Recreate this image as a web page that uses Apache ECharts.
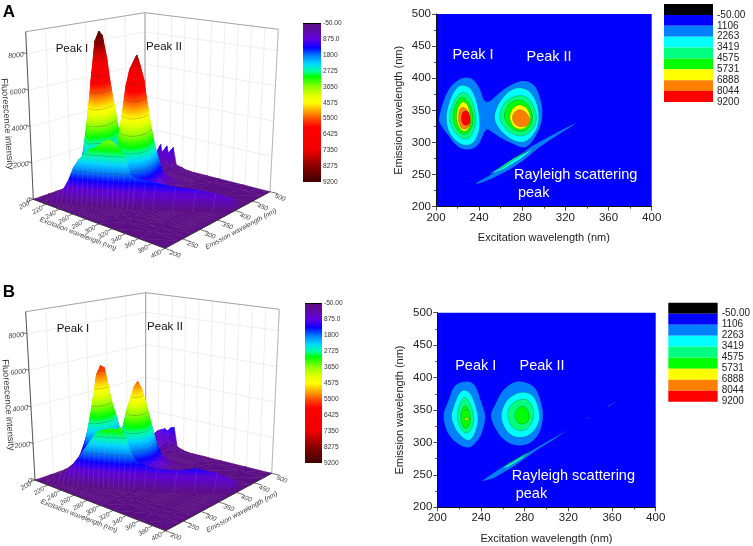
<!DOCTYPE html>
<html><head><meta charset="utf-8">
<style>html,body{margin:0;padding:0;background:#fff}#c{width:753px;height:546px}</style>
<script src="https://cdn.jsdelivr.net/npm/echarts@6/dist/echarts.min.js"></script>
</head><body><div id="c"></div>
<script>
// ---------- DATA ----------
const excitationGrid=[200,210,215,220,225,230,235,240,245,250,260,265,270,275,280,285,290,295,300,320,360,400];
const emissionGrid=[200,240,260,280,290,300,310,320,330,340,350,360,370,380,400,440,480,500];
// rows follow excitationGrid, columns follow emissionGrid
const surfaceA=[
[0,0,0,0,0,50,100,150,250,300,250,200,150,100,50,0,0,0],
[0,0,0,100,250,650,950,1650,2150,2350,1950,1450,1100,750,250,20,0,0],
[0,0,0,200,500,1150,1900,3200,4100,4300,3600,2800,2100,1400,480,40,0,0],
[0,0,0,320,770,1850,2800,4800,6100,6400,5500,4200,3200,2100,780,100,60,100],
[0,0,0,440,1060,2600,3800,6600,8400,8900,7600,5800,4450,2950,1080,150,500,1200],
[0,0,0,430,1040,2500,3700,6400,8250,8700,7400,5650,4350,2870,1050,150,500,250],
[0,0,0,230,550,1330,2000,3500,4400,4600,3900,3000,2300,1520,530,150,600,1200],
[0,0,0,130,300,750,1100,1900,2400,2500,2150,1650,1250,830,300,130,600,250],
[0,0,0,80,180,430,620,1050,1320,1350,1250,1180,1000,650,180,100,500,1200],
[0,0,0,80,190,450,600,850,1150,1300,1300,1180,1050,800,200,80,350,200],
[0,0,0,150,380,800,1300,2200,3000,3800,3300,2500,1800,1300,500,60,150,100],
[0,0,0,300,650,1350,2150,3600,4750,5000,4400,3400,2500,1750,650,60,100,40],
[0,0,0,400,860,1780,2840,4750,6270,6600,5800,4500,3300,2310,860,80,50,20],
[0,0,0,450,975,2030,3230,5400,7130,7500,6600,5100,3750,2630,975,90,30,0],
[0,0,0,480,1030,2150,3420,5720,7550,7950,7000,5400,3980,2780,1030,95,20,0],
[0,0,0,440,960,2000,3180,5330,7030,7400,6510,5030,3700,2590,960,90,0,0],
[0,0,0,270,585,1215,1935,3240,4275,4500,3960,3060,2250,1575,585,54,0,0],
[0,0,0,140,300,620,990,1660,2190,2300,2020,1560,1150,800,300,30,0,0],
[0,0,0,60,130,270,430,720,950,1000,880,680,500,350,130,10,0,0],
[0,0,0,0,0,30,50,60,80,80,70,60,50,30,10,0,0,0],
[0,0,0,0,0,0,0,0,0,0,0,0,0,0,0,0,0,0],
[0,0,0,0,0,0,0,0,0,0,0,0,0,0,0,0,0,0]];
const surfaceB=[
[0,0,0,10,40,100,155,215,280,300,290,215,175,115,35,3,0,0],
[0,0,0,50,210,530,830,1150,1490,1600,1550,1150,930,610,190,15,60,100],
[0,0,0,85,365,925,1455,2015,2600,2800,2715,2015,1625,1065,335,80,500,700],
[0,0,0,120,520,1320,2080,2880,3720,4000,3880,2880,2320,1520,480,100,650,900],
[0,0,0,175,755,1915,3015,4175,5395,5800,5625,4175,3365,2205,695,120,700,1000],
[0,0,0,145,625,1585,2495,3455,4465,4800,4655,3455,2785,1825,575,120,750,1100],
[0,0,0,85,375,955,1510,2090,2695,2900,2815,2090,1680,1100,350,120,700,1000],
[0,0,0,55,235,595,935,1295,1675,1800,1745,1295,1045,685,215,120,800,1250],
[0,0,0,30,130,330,520,720,930,1000,970,720,580,380,120,100,800,1300],
[0,0,0,35,145,335,540,790,1055,1200,1105,935,720,480,190,60,250,200],
[0,0,0,70,290,670,1080,1585,2110,2400,2210,1870,1440,960,385,40,100,60],
[0,0,0,105,420,980,1575,2310,3080,3500,3220,2730,2100,1400,560,40,50,20],
[0,0,0,130,530,1230,1980,2905,3870,4400,4050,3430,2640,1760,705,55,20,0],
[0,0,0,155,610,1430,2295,3365,4490,5100,4690,3980,3060,2040,815,60,0,0],
[0,0,0,160,650,1510,2430,3565,4750,5400,4970,4210,3240,2160,865,65,0,0],
[0,0,0,130,530,1230,1980,2905,3870,4400,4050,3430,2640,1760,705,55,0,0],
[0,0,0,95,370,870,1395,2045,2730,3100,2850,2420,1860,1240,495,35,0,0],
[0,0,0,55,230,530,855,1255,1670,1900,1750,1480,1140,760,305,25,0,0],
[0,0,0,20,85,195,315,460,615,700,645,545,420,280,110,10,0,0],
[0,0,0,0,0,0,0,0,0,0,0,0,0,0,0,0,0,0],
[0,0,0,0,0,0,0,0,0,0,0,0,0,0,0,0,0,0],
[0,0,0,0,0,0,0,0,0,0,0,0,0,0,0,0,0,0]];
// Rayleigh ridge along excitation = emission
const ridgeWavelengths=[215,220,225,230,235,240,245,250,255,260,265,270,275,280,285,290,295,300,310,320,340,360,380,400];
const ridgeHeightA=[100,250,450,750,1250,1950,2400,2700,3000,3100,3300,3500,3600,3450,3150,2800,1750,1600,1500,1400,1200,1100,900,600];
const ridgeHeightB=[100,200,350,550,800,1150,1550,2000,2400,2800,3050,3100,3200,3150,3300,2700,1900,1500,1300,1150,1100,1250,1000,600];

const intensityTicks=[0,2000,4000,6000,8000];
const excitationTicks=[200,220,240,260,280,300,320,340,360,380,400];
const emissionTicks=[200,250,300,350,400,450,500];
const colorbarRange=[-50,9200];
const colorScale=[[-50,'#5c0f80'],[400,'#5f0aa8'],[875,'#6000e0'],[1350,'#0a00ff'],[1800,'#0078ff'],[2300,'#00d8ff'],[2725,'#00ffa0'],[3050,'#00ff00'],[3650,'#90ff00'],[4200,'#e8ff00'],[4575,'#ffff00'],[5000,'#ffb000'],[5500,'#ff5000'],[6000,'#ff0000'],[7350,'#f00000'],[8275,'#880000'],[9200,'#400000']];
const surfaceContourLevels=[875,1800,2725,3650,4575,5500,6425,7350,8275];

const levelLabels=['-50.00','1106','2263','3419','4575','5731','6888','8044','9200'];
const levelColors=['#000000','#0000ff','#0080ff','#00ffff','#00ff80','#00ff00','#ffff00','#ff8000','#ff0000'];

// contour outlines, [excitation, emission]; level = index into levelColors
const contoursA=[
{level:2,pts:[[202.5,337.5],[206.8,366],[213,387],[220.7,398],[227.8,402],[234.6,399],[240.8,384],[244.5,363.5],[250,363.5],[256.3,374],[267,388],[281,398],[291.8,390],[296.4,371],[299,350.5],[298,330],[293.4,311.5],[287,296],[281,291],[271.7,297.5],[261,306],[251.6,317],[246.4,322],[242.3,306],[239.3,296],[233,289],[223.8,289],[216,299.6],[211.4,311.6],[206.8,320.4],[203,332]]},
{level:2,pts:[[234.6,234.8],[253.2,252],[271.7,272.6],[287,292.4],[293.4,298.6],[311.9,315.7],[335,335],[315,314],[296.4,293.4],[291.8,287],[277.9,267.5],[259.3,249.3],[240.8,236.3]]},
{level:3,pts:[[225.3,390],[233,384],[238.3,361],[240.8,335],[240.2,317],[234.6,297],[225.3,295],[217.6,303],[211.4,317],[209.3,335],[210,350.5],[214.5,374],[220.7,388]]},
{level:3,pts:[[278,386],[287,381],[294,361],[296,337.5],[293.4,319],[285.6,303],[278,299],[267,307],[257.8,322],[253.4,337.5],[256.3,355.7],[264,375],[271.7,384]]},
{level:3,pts:[[250,250.9],[268.6,271.6],[291.8,291.8],[277.9,273.7],[262.4,258]]},
{level:4,pts:[[224.7,379],[231,374],[235.5,355.7],[237.3,335],[235.5,319.3],[231,306],[224.7,305],[218.5,313],[214.5,324.5],[212,337.5],[214.5,355.7],[219.2,372]]},
{level:4,pts:[[278,374],[285.6,370],[291.8,353],[293.6,335],[289.6,319.3],[281,309],[271.7,312],[264,321],[258.4,337.5],[260.9,355.7],[267,368]]},
{level:4,pts:[[256.3,257],[271.7,275],[284,287],[273,273.7],[262.4,261]]},
{level:5,pts:[[223.8,371.5],[229,366],[233,353],[234.9,335],[233,322],[229,313],[223.8,313],[219.8,319.4],[215.7,332],[216.4,350.5],[219.8,364.5]]},
{level:5,pts:[[278,367],[285.6,359],[289.9,342.7],[288,325.6],[281,315.7],[271.7,319.4],[265.5,330],[262.7,342.7],[267,359],[271.7,364.5]]},
{level:6,pts:[[225.3,365],[230,357],[232.3,340],[231.8,324.5],[226.9,315.7],[222,321],[218.7,335],[219.5,350.5],[222,359]]},
{level:6,pts:[[279.4,359],[285.6,351.5],[288,337.5],[285.9,327],[279.4,319.4],[271.7,323.5],[267.7,337.5],[270,351.5],[274.8,357.7]]},
{level:7,pts:[[225.3,356],[230,349],[231.8,337.5],[231.3,325],[226,319.4],[221.7,326],[220.7,340],[221.7,351.5]]},
{level:7,pts:[[278,352.5],[284,346],[287.3,336],[285,326.3],[278,323.5],[272.7,328.5],[270.5,337.5],[272.3,347]]},
{level:8,pts:[[224.7,349],[230,349],[231.8,337.5],[231.3,328],[225.3,326],[223.2,337.5]]}];
const contoursB=[
{level:2,pts:[[223.8,395],[234.5,392],[240.6,360],[244.8,339.7],[240.6,311.5],[234.5,298],[229.3,291],[220.8,295],[211.6,308],[207,324],[205.2,345],[210,363],[214.7,387]]},
{level:2,pts:[[275.7,395],[289.5,388],[295.6,360],[297.3,339.7],[294,314],[284.9,297.6],[272.7,294],[260.5,303],[252.8,321.7],[248,342],[252.8,357.7],[258.9,379],[268,392]]},
{level:2,pts:[[240,239.6],[257.4,260],[281.8,283],[294,295],[320,320],[306,303.8],[291,288.4],[269.6,262.7],[251.3,244.7]]},
{level:2,pts:[[335,335.6],[340.4,340.8],[337,336.5]]},
{level:2,pts:[[355,355],[365.8,365.4],[357,355.5]]},
{level:3,pts:[[223.8,382],[230.5,377],[236,352.6],[237.9,334.6],[234.5,313],[229.3,301],[222.3,308],[216.2,321],[212.2,339.7],[215.3,357.7],[219.2,374]]},
{level:3,pts:[[277,379],[288,374],[293.6,350],[293.6,329.5],[284.9,310.5],[274.2,306.4],[265,313],[258.6,332],[258.6,350],[265,369]]},
{level:3,pts:[[259,260],[275.7,278],[286.4,287.3],[275.7,273],[265,262]]},
{level:4,pts:[[224.4,372],[229.3,364],[233.9,339.7],[231.6,321],[227.5,313],[222.3,318],[218,334.6],[219,353.6]]},
{level:4,pts:[[278.8,369],[286.4,361],[289.1,339.7],[283.6,321],[275.7,317],[268,323.5],[263.7,339.7],[266.4,358.7]]},
{level:4,pts:[[263.5,266],[285,285.8],[265,265]]},
{level:5,pts:[[225.3,359],[229.3,348.4],[230.8,334.6],[228.6,323.5],[225.3,320.7],[222,329],[221.4,345]]},
{level:5,pts:[[278.8,357],[283.5,348.4],[284.6,334.6],[278.8,327],[272.5,331],[270.7,345],[274,353.6]]},
{level:6,pts:[[225,338.7],[229.3,336.6],[226.3,333.5]]},
{level:7,pts:[[225.3,350.6],[226.9,350],[226,348.8]]}];
const annotationsA=[['Peak I',234.3,436,'center'],['Peak II',304.8,433.5,'center'],['Rayleigh scattering',272.3,249.4,'left'],['peak',276,221.4,'left']];
const annotationsB=[['Peak I',235.2,418.3,'center'],['Peak II',295.9,418.3,'center'],['Rayleigh scattering',268.1,248.7,'left'],['peak',271.8,220.5,'left']];

// ---------- LAYOUT ----------
const FONT='"Liberation Sans",Arial,sans-serif';
const box3dA={floor:[[33.3,199.3],[145,160],[270,191.7],[165,248.3]],top:[[25.7,31.7],[145,12.7],[278.3,29.3],[169,63.3]],
  peaks:[['Peak I',72,49],['Peak II',164,47]],letter:['A',9,12],yName:[7,124],exName:[78,234],emName:[241,229]};
const box3dB={floor:[[35,480],[145.7,442],[271.7,473.3],[165.7,530.7]],top:[[25.7,311.7],[145.7,292.7],[279.3,309.3],[169.7,344]],
  peaks:[['Peak I',73,329],['Peak II',165,327]],letter:['B',9,292],yName:[8,405],exName:[79,516],emName:[242,512]};

function colorAt(v){
  const s=colorScale; if(v<=s[0][0])return s[0][1]; if(v>=s[s.length-1][0])return s[s.length-1][1];
  for(let k=0;k<s.length-1;k++){ if(v<=s[k+1][0]){ const t=(v-s[k][0])/(s[k+1][0]-s[k][0]);
    const a=hex(s[k][1]),b=hex(s[k+1][1]);
    return 'rgb('+a.map((c,i)=>Math.round(c+(b[i]-c)*t)).join(',')+')'; } }
}
function hex(h){return [1,3,5].map(i=>parseInt(h.substr(i,2),16));}
function bil(c,u,v){
  const ax=c[0][0]+(c[3][0]-c[0][0])*u, ay=c[0][1]+(c[3][1]-c[0][1])*u;
  const bx=c[1][0]+(c[2][0]-c[1][0])*u, by=c[1][1]+(c[2][1]-c[1][1])*u;
  return [ax+(bx-ax)*v, ay+(by-ay)*v];
}
function project(box,ex,em,val){
  const u=(ex-200)/200,v=(em-200)/300,w=val/9200;
  const f=bil(box.floor,u,v),t=bil(box.top,u,v);
  return [f[0]+(t[0]-f[0])*w,f[1]+(t[1]-f[1])*w];
}
function triangle(api,box,A,B,C){
  const P=[A,B,C].map(d=>{const c=api.coord(project(box,d[0],d[1],d[2]));return {x:c[0],y:c[1],v:d[2]};});
  const out=[];
  const [p,q,r]=P; const vs=P.map(o=>o.v), lo=Math.min(...vs), hi=Math.max(...vs);
  const det=(q.x-p.x)*(r.y-p.y)-(r.x-p.x)*(q.y-p.y);
  let fill;
  if(Math.abs(det)<0.02||hi-lo<5){fill=colorAt((lo+hi)/2);}
  else{
    const a=((q.v-p.v)*(r.y-p.y)-(r.v-p.v)*(q.y-p.y))/det;
    const b=((r.v-p.v)*(q.x-p.x)-(q.v-p.v)*(r.x-p.x))/det;
    const s=P.find(o=>o.v===lo); const k=(hi-lo)/(a*a+b*b);
    const stops=[{offset:0,color:colorAt(lo)}];
    colorScale.forEach(e=>{if(e[0]>lo&&e[0]<hi)stops.push({offset:(e[0]-lo)/(hi-lo),color:e[1]});});
    stops.push({offset:1,color:colorAt(hi)});
    fill=new echarts.graphic.LinearGradient(s.x,s.y,s.x+a*k,s.y+b*k,stops,true);
  }
  out.push({type:'polygon',shape:{points:P.map(o=>[o.x,o.y])},style:{fill:fill,stroke:fill,lineWidth:0.5}});
  surfaceContourLevels.forEach(L=>{
    if(L<=lo||L>=hi)return;
    const pts=[]; [[p,q],[q,r],[r,p]].forEach(e=>{const m=e[0],n=e[1];
      if((m.v-L)*(n.v-L)<0){const t=(L-m.v)/(n.v-m.v);pts.push([m.x+(n.x-m.x)*t,m.y+(n.y-m.y)*t]);}});
    if(pts.length===2)out.push({type:'line',shape:{x1:pts[0][0],y1:pts[0][1],x2:pts[1][0],y2:pts[1][1]},style:{stroke:'rgba(50,50,50,0.5)',lineWidth:0.6}});
  });
  return out;
}
function line(api,box,a,b,stroke,w){
  const p=api.coord(project(box,a[0],a[1],a[2])),q=api.coord(project(box,b[0],b[1],b[2]));
  return {type:'line',shape:{x1:p[0],y1:p[1],x2:q[0],y2:q[1]},style:{stroke:stroke,lineWidth:w}};
}
function txt(api,pos,str,font,fill,rot,align,vAlign){
  const c=api.coord(pos);
  return {type:'text',x:c[0],y:c[1],rotation:rot||0,style:{text:str,font:font,fill:fill||'#222',align:align||'center',verticalAlign:vAlign||'middle'}};
}
function custom(xi,yi,data,renderItem,z){
  return {type:'custom',xAxisIndex:xi,yAxisIndex:yi,data:data,renderItem:renderItem,silent:true,clip:false,animation:false,progressive:0,z:z||2};
}
function surfaceSeries(box,matrix,ridgeH){
  const s=[];
  s.push(custom(0,0,[0],(p,api)=>{
    const ch=[],g='#e6e6e6';
    emissionTicks.forEach(e=>ch.push(line(api,box,[200,e,0],[200,e,9200],g,0.7)));
    excitationTicks.forEach(e=>ch.push(line(api,box,[e,500,0],[e,500,9200],g,0.7)));
    intensityTicks.forEach(z=>{if(!z)return;
      ch.push(line(api,box,[200,200,z],[200,500,z],g,0.7));
      ch.push(line(api,box,[200,500,z],[400,500,z],g,0.7));});
    const k='#8a8a8a';
    ch.push(line(api,box,[200,200,9200],[200,500,9200],k,0.8));
    ch.push(line(api,box,[200,500,9200],[400,500,9200],k,0.8));
    ch.push(line(api,box,[200,500,0],[200,500,9200],k,0.8));
    ch.push(line(api,box,[400,500,0],[400,500,9200],'#aaaaaa',0.8));
    ch.push(line(api,box,[200,200,0],[200,200,9200],'#444',0.9));
    return {type:'group',children:ch};
  },2));
  const cells=[];
  for(let i=0;i<excitationGrid.length-1;i++)for(let j=emissionGrid.length-2;j>=0;j--)cells.push([i,j]);
  s.push(custom(0,0,cells,(p,api)=>{
    const i=api.value(0),j=api.value(1),x=excitationGrid,y=emissionGrid,m=matrix;
    const a=[x[i],y[j],m[i][j]],b=[x[i+1],y[j],m[i+1][j]],c=[x[i+1],y[j+1],m[i+1][j+1]],d=[x[i],y[j+1],m[i][j+1]];
    const ch=triangle(api,box,d,a,c).concat(triangle(api,box,a,b,c));
    ch.push(line(api,box,a,b,'rgba(190,150,205,0.22)',0.4));
    return {type:'group',children:ch};
  },3));
  const W=8, seg=ridgeWavelengths.slice(0,-1).map((e,i)=>[i]);
  s.push(custom(0,0,seg,(p,api)=>{
    const i=api.value(0),e0=ridgeWavelengths[i],e1=ridgeWavelengths[i+1],h0=ridgeH[i],h1=ridgeH[i+1];
    const T0=[e0,e0,h0],T1=[e1,e1,h1],B0=[e0,Math.min(500,e0+W),0],B1=[e1,Math.min(500,e1+W),0];
    return {type:'group',children:triangle(api,box,B0,T0,T1).concat(triangle(api,box,B0,B1,T1))};
  },4));
  s.push(custom(0,0,seg,(p,api)=>{
    const i=api.value(0),e0=ridgeWavelengths[i],e1=ridgeWavelengths[i+1],h0=ridgeH[i],h1=ridgeH[i+1];
    const T0=[e0,e0,h0],T1=[e1,e1,h1],F0=[e0,Math.max(200,e0-W),0],F1=[e1,Math.max(200,e1-W),0];
    const ch=triangle(api,box,T0,F0,F1).concat(triangle(api,box,T0,F1,T1));
    ch.push(line(api,box,T0,F0,'rgba(190,150,235,0.3)',0.5));
    return {type:'group',children:ch};
  },5));
  s.push(custom(0,0,[0],(p,api)=>{
    const ch=[],tf='italic 6.6px '+FONT,c='#444';
    ch.push(line(api,box,[200,200,0],[400,200,0],'#333',0.9));
    ch.push(line(api,box,[400,200,0],[400,500,0],'#333',0.9));
    excitationTicks.forEach(e=>{
      const q=project(box,e,200,0);
      ch.push(line(api,box,[e,200,0],[e,188,0],'#333',0.7));
      ch.push(txt(api,[q[0]-9,q[1]+6],String(e),tf,c,0.5));
    });
    emissionTicks.forEach(e=>{
      const q=project(box,400,e,0);
      ch.push(line(api,box,[400,e,0],[412,e,0],'#333',0.7));
      ch.push(txt(api,[q[0]+10,q[1]+6],String(e),tf,c,-0.35));
    });
    intensityTicks.forEach(z=>{
      const q=project(box,200,200,z);
      ch.push(line(api,box,[200,200,z],[194,200,z],'#333',0.7));
      ch.push(txt(api,[q[0]-3,q[1]+1],String(z),'italic 7px '+FONT,c,0.12,'right'));
    });
    ch.push(txt(api,box.yName,'Fluorescence intensity','9.2px '+FONT,'#333',-1.5));
    ch.push(txt(api,box.exName,'Excitation wavelength (nm)','italic 6.8px '+FONT,c,-0.37));
    ch.push(txt(api,box.emName,'Emission wavelength (nm)','italic 6.8px '+FONT,c,0.49));
    box.peaks.forEach(k=>ch.push(txt(api,[k[1],k[2]],k[0],'11.5px '+FONT,'#111')));
    ch.push(txt(api,[box.letter[1],box.letter[2]],box.letter[0],'bold 17px '+FONT,'#000'));
    return {type:'group',children:ch};
  },6));
  return s;
}
// rounds the drawn outline only; the listed outline points stay as read
function rounded(pts,n){
  let r=pts;
  for(let t=0;t<n;t++){const o=[];
    r.forEach((a,i)=>{const b=r[(i+1)%r.length];
      o.push([a[0]*.75+b[0]*.25,a[1]*.75+b[1]*.25],[a[0]*.25+b[0]*.75,a[1]*.25+b[1]*.75]);});
    r=o;}
  return r;
}
function isThin(pts){ // outlines hugging the excitation = emission diagonal
  return pts.every(q=>Math.abs(q[0]-q[1])<8);
}
function contourSeries(ax,shapes,notes){
  return [
   custom(ax,ax,shapes.map((o,i)=>[i]),(p,api)=>{
     const o=shapes[api.value(0)],drawn=o.pts.length>=6&&!isThin(o.pts)?rounded(o.pts,2):o.pts;
     return {type:'polygon',shape:{points:drawn.map(q=>api.coord(q))},
       style:{fill:levelColors[o.level],stroke:o.level>2?'rgba(30,30,30,0.5)':'rgba(0,0,60,0.2)',lineWidth:0.5}};
   },3),
   custom(ax,ax,notes.map((o,i)=>[i]),(p,api)=>{
     const o=notes[api.value(0)],c=api.coord([o[1],o[2]]);
     return {type:'text',x:c[0],y:c[1],style:{text:o[0],font:'14.5px '+FONT,fill:'#fff',align:o[3],verticalAlign:'middle'}};
   },4)
  ];
}
function levelLegendSeries(ax){
  return custom(ax,ax,levelColors.map((c,i)=>[i]),(p,api)=>{
    const i=api.value(0),a=api.coord([0,i]),b=api.coord([1,i+1]);
    return {type:'rect',shape:{x:a[0],y:a[1],width:b[0]-a[0],height:b[1]-a[1]},style:{fill:levelColors[i]}};
  },3);
}
function colorbarSeries(ax){
  return custom(ax,ax,[0],(p,api)=>{
    const a=api.coord([0,colorbarRange[0]]),b=api.coord([1,colorbarRange[1]]),span=colorbarRange[1]-colorbarRange[0];
    const stops=colorScale.map(e=>({offset:(e[0]-colorbarRange[0])/span,color:e[1]}));
    return {type:'group',children:[
      {type:'rect',shape:{x:a[0],y:a[1],width:b[0]-a[0],height:b[1]-a[1]},style:{fill:new echarts.graphic.LinearGradient(0,0,0,1,stops)}},
      {type:'line',shape:{x1:a[0],y1:a[1],x2:b[0],y2:a[1]},style:{stroke:'#000',lineWidth:1}}
    ]};
  },3);
}
function contourAxes(g){
  const nameStyle={fontFamily:FONT,fontSize:11,color:'#222'};
  const lab={fontFamily:FONT,fontSize:11.5,color:'#222',margin:5};
  const al={show:true,lineStyle:{color:'#111',width:1}};
  const tick={show:true,length:4,lineStyle:{color:'#222',width:0.8}};
  return {x:{type:'value',gridIndex:g,min:200,max:400,interval:40,name:'Excitation wavelength (nm)',nameLocation:'middle',nameGap:26,nameTextStyle:nameStyle,
      axisLine:al,axisTick:tick,minorTick:{show:true,splitNumber:2,length:2,lineStyle:{color:'#222',width:0.8}},axisLabel:lab,splitLine:{show:false}},
    y:{type:'value',gridIndex:g,min:200,max:500,interval:50,name:'Emission wavelength (nm)',nameLocation:'middle',nameGap:32,nameTextStyle:nameStyle,
      axisLine:al,axisTick:tick,minorTick:{show:true,splitNumber:2,length:2,lineStyle:{color:'#222',width:0.8}},axisLabel:lab,splitLine:{show:false}}};
}
const hidden=(g,min,max,inverse)=>({type:'value',gridIndex:g,min:min,max:max,inverse:!!inverse,show:false});
const ca=contourAxes(1),cb=contourAxes(2);
function legendY(g){return {type:'value',gridIndex:g,min:0,max:9,interval:1,inverse:true,position:'right',axisLine:{show:false},axisTick:{show:false},splitLine:{show:false},
  axisLabel:{fontFamily:FONT,fontSize:10,color:'#222',margin:4,align:'left',showMinLabel:false,formatter:v=>levelLabels[v-1]||''}};}
function colorbarY(g){return {type:'value',gridIndex:g,min:colorbarRange[0],max:colorbarRange[1],interval:925,inverse:true,position:'right',axisLine:{show:false},axisTick:{show:false},splitLine:{show:false},
  axisLabel:{fontFamily:FONT,fontSize:6.6,color:'#333',margin:2,align:'left',formatter:v=>v===-50?'-50.00':v===875?'875.0':String(v)}};}

const option={
  backgroundColor:'#fff',animation:false,
  grid:[
   {left:0,top:0,width:753,height:546},
   {left:436,top:14,width:215.7,height:192.7,show:true,backgroundColor:'#0000ff',borderWidth:0},
   {left:437.3,top:312.7,width:218.4,height:194.6,show:true,backgroundColor:'#0000ff',borderWidth:0},
   {left:664,top:4,width:49,height:98},
   {left:668.3,top:302.7,width:49.4,height:99},
   {left:303,top:23.5,width:18,height:158.5},
   {left:305,top:303.5,width:17,height:159.5}
  ],
  xAxis:[hidden(0,0,753),ca.x,cb.x,hidden(3,0,1),hidden(4,0,1),hidden(5,0,1),hidden(6,0,1)],
  yAxis:[hidden(0,0,546,true),ca.y,cb.y,legendY(3),legendY(4),colorbarY(5),colorbarY(6)],
  series:[].concat(
    surfaceSeries(box3dA,surfaceA,ridgeHeightA),
    surfaceSeries(box3dB,surfaceB,ridgeHeightB),
    contourSeries(1,contoursA,annotationsA),
    contourSeries(2,contoursB,annotationsB),
    [levelLegendSeries(3),levelLegendSeries(4),colorbarSeries(5),colorbarSeries(6)]
  )
};
const chart=echarts.init(document.getElementById('c'),null,{width:753,height:546});
chart.setOption(option);
</script></body></html>
